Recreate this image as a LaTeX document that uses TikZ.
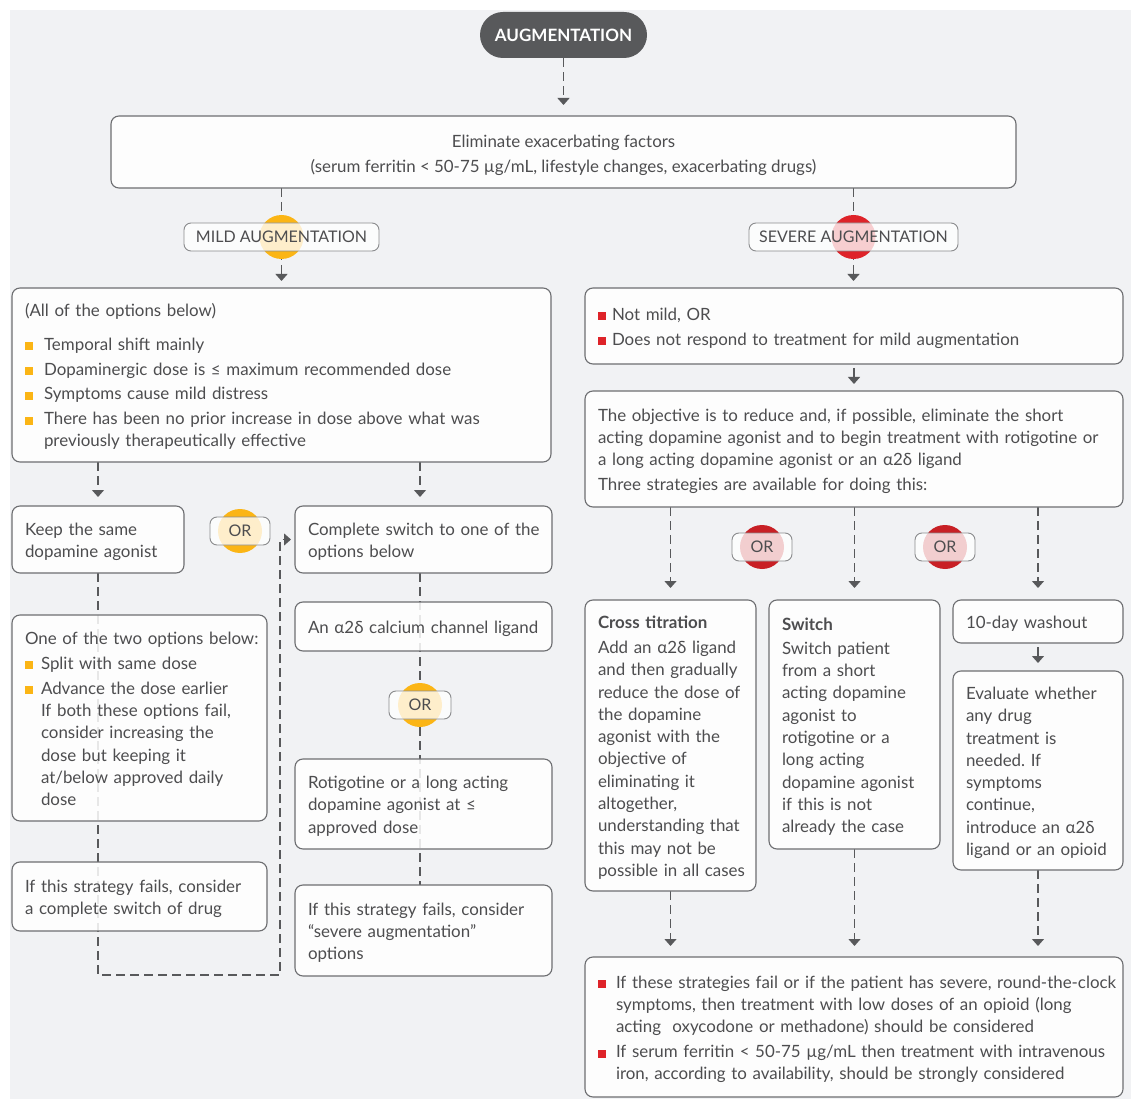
\documentclass[tikz,border=0pt]{standalone}
\usepackage{fontspec}
\setmainfont{Lato}
\usetikzlibrary{arrows.meta}
\frenchspacing

\definecolor{bggrey}{HTML}{F1F2F4}
\definecolor{edge}{HTML}{6D6E71}
\definecolor{ink}{HTML}{4D4D4F}
\definecolor{dark}{HTML}{58595B}
\definecolor{ylw}{HTML}{FBB515}
\definecolor{rd}{HTML}{DE2329}

\pgfdeclarelayer{bg}
\pgfdeclarelayer{back}
\pgfsetlayers{bg,back,main}

\tikzstyle{box} = [rectangle, rounded corners=8pt, draw=edge, line width=1.1pt, fill=white, fill opacity=0.86, text opacity=1, text=ink, anchor=north west, align=left, inner xsep=13pt, inner ysep=0pt, outer sep=0pt]
\tikzstyle{tag} = [rectangle, rounded corners=7pt, draw=edge!80, line width=0.9pt, fill=white, fill opacity=0.78, text opacity=1, text=ink, minimum height=28pt, inner xsep=0pt, outer sep=0pt, font=\fontsize{16}{20}\selectfont]
\tikzstyle{arrow} = [line width=1.3pt, draw=dark, dash pattern=on 9pt off 5pt, -{Triangle[width=12pt,length=7pt]}]
\tikzstyle{link} = [line width=1.3pt, draw=dark, dash pattern=on 9pt off 5pt]

\newcommand{\lns}[1]{\raisebox{-2.5pt}[\height][\depth]{\begin{tabular}{@{}l@{}}#1\end{tabular}}}
\newcommand{\sqbul}[2]{\makebox[#2][l]{\textcolor{#1}{\rule{8pt}{8pt}}}}

\begin{document}
\begin{tikzpicture}[x=1pt, y=-1pt, font=\fontsize{16.9}{22.3}\selectfont]
\useasboundingbox (0,0) rectangle (1133,1099);

\node (aug) [rectangle, rounded corners=23pt, fill=dark, text=white, minimum width=167pt, minimum height=46pt, font=\bfseries\fontsize{17}{20}\selectfont] at (563.5,35) {AUGMENTATION};
\node (elim) [box, align=center, minimum width=905pt, minimum height=72pt, inner xsep=0pt] at (111,116) {\raisebox{-3.5pt}[\height][\depth]{\begin{tabular}{@{}c@{}}Eliminate exacerbating factors\\[2.7pt](serum ferritin < 50-75 µg/mL, lifestyle changes, exacerbating drugs)\end{tabular}}};

\node (mildlab) [tag, minimum width=195pt] at (281.5,237) {MILD AUGMENTATION};
\node (sevlab) [tag, minimum width=209pt] at (853.5,237) {SEVERE AUGMENTATION};

% mild side
\node (mild) [box, text width=513pt, minimum height=174pt] at (12,288) {\lns{(All of the options below)\\[11pt]
\sqbul{ylw}{19pt}Temporal shift mainly\\[2.5pt]
\sqbul{ylw}{19pt}Dopaminergic dose is ≤ maximum recommended dose\\[2.5pt]
\sqbul{ylw}{19pt}Symptoms cause mild distress\\[2.5pt]
\sqbul{ylw}{19pt}There has been no prior increase in dose above what was\\
\hspace*{19pt}previously therapeutically effective}};
\node (keep) [box, text width=146pt, minimum height=67pt] at (12,506) {\lns{Keep the same\\dopamine agonist}};
\node (swtch) [box, text width=231pt, minimum height=67pt] at (295,506) {\lns{Complete switch to one of the\\options below}};
\node (ortag1) [tag, minimum width=60pt] at (240,531) {OR};
\node (twoopt) [box, text width=229pt, minimum height=206pt] at (12,615) {\lns{One of the two options below:\\[2.7pt]
\sqbul{ylw}{16pt}Split with same dose\\[2.7pt]
\sqbul{ylw}{16pt}Advance the dose earlier\\
\hspace*{16pt}If both these options fail,\\
\hspace*{16pt}consider increasing the\\
\hspace*{16pt}dose but keeping it\\
\hspace*{16pt}at/below approved daily\\
\hspace*{16pt}dose}};
\node (leftfail) [box, text width=229pt, minimum height=69pt] at (12,862) {\lns{If this strategy fails, consider\\a complete switch of drug}};
\node (ligand) [box, text width=231pt, minimum height=49pt] at (295,602) {\lns{An α2δ calcium channel ligand}};
\node (ortag2) [tag, minimum width=62pt] at (420,705) {OR};
\node (rotig) [box, text width=231pt, minimum height=90pt] at (295,759) {\lns{Rotigotine or a long acting\\dopamine agonist at ≤\\approved dose}};
\node (sevopt) [box, text width=231pt, minimum height=91pt] at (295,885) {\lns{If this strategy fails, consider\\“severe augmentation”\\options}};

% severe side
\node (notmild) [box, text width=512pt, minimum height=76pt] at (585,288) {\lns{\sqbul{rd}{14pt}Not mild, OR\\[2.7pt]
\sqbul{rd}{14pt}Does not respond to treatment for mild augmentation}};
\node (goal) [box, text width=512pt, minimum height=116pt] at (585,391) {\lns{The objective is to reduce and, if possible, eliminate the short\\
acting dopamine agonist and to begin treatment with rotigotine or\\
a long acting dopamine agonist or an α2δ ligand\\[2.7pt]
Three strategies are available for doing this:}};
\node (ortag3) [tag, minimum width=60pt] at (762,547) {OR};
\node (ortag4) [tag, minimum width=60pt] at (945,547) {OR};
\node (cross) [box, text width=145pt, minimum height=291pt] at (585,600) {\lns{\textbf{Cross titration}\\[2.7pt]
Add an α2δ ligand\\and then gradually\\reduce the dose of\\the dopamine\\agonist with the\\objective of\\eliminating it\\altogether,\\understanding that\\this may not be\\possible in all cases}};
\node (swap) [box, text width=145pt, minimum height=249pt] at (769,600) {\lns{\textbf{Switch}\\[1.7pt]
Switch patient\\from a short\\acting dopamine\\agonist to\\rotigotine or a\\long acting\\dopamine agonist\\if this is not\\already the case}};
\node (wash) [box, text width=144pt, minimum height=43pt] at (953,600) {\lns{10-day washout}};
\node (evalu) [box, text width=144pt, minimum height=199pt] at (953,671) {\lns{Evaluate whether\\any drug\\treatment is\\needed. If\\symptoms\\continue,\\introduce an α2δ\\ligand or an opioid}};
\node (last) [box, text width=512pt, minimum height=140pt] at (585,957) {\lns{\sqbul{rd}{18pt}If these strategies fail or if the patient has severe, round-the-clock\\
\hspace*{18pt}symptoms, then treatment with low doses of an opioid (long\\
\hspace*{18pt}acting~ oxycodone or methadone) should be considered\\[2.7pt]
\sqbul{rd}{18pt}If serum ferritin < 50-75 µg/mL then treatment with intravenous\\
\hspace*{18pt}iron, according to availability, should be strongly considered}};

\coordinate (loop) at (280,975);

\begin{pgfonlayer}{bg}
\fill[bggrey] (10,10) rectangle (1131,1099);
\end{pgfonlayer}

% Arrows
\begin{pgfonlayer}{back}
\draw [arrow, shorten >=11pt] (aug) -- (elim);
\draw [link] (elim.south -| mildlab) -- (mildlab);
\draw [link] (elim.south -| sevlab) -- (sevlab);
\draw [arrow, shorten >=7pt] (mildlab.south) -- (mildlab.south |- mild.north);
\draw [arrow, shorten >=7pt] (sevlab.south) -- (sevlab.south |- notmild.north);
\draw [arrow, shorten >=9pt] (mild.south -| keep) -- (keep);
\draw [arrow, shorten >=9pt] (mild.south -| ortag2) -- (ortag2 |- swtch.north);
\draw [arrow, shorten >=4pt] (keep.south) |- (loop) |- (swtch.west);
\draw [link] (swtch.south -| ortag2) -- (sevopt.north -| ortag2);
\draw [arrow, shorten <=4pt, shorten >=7pt] (notmild) -- (goal);
\draw [arrow, shorten >=12pt] (goal.south -| cross) -- (cross);
\draw [arrow, shorten >=12pt] (goal.south -| swap) -- (swap);
\draw [arrow, shorten >=12pt] (goal.south -| wash) -- (wash);
\draw [arrow, shorten <=4pt, shorten >=8pt] (wash) -- (evalu);
\draw [arrow, shorten >=11pt] (cross) -- (cross |- last.north);
\draw [arrow, shorten >=11pt] (swap) -- (swap |- last.north);
\draw [arrow, shorten >=11pt] (evalu) -- (evalu |- last.north);
\fill [ylw] (mildlab) circle (22pt);
\fill [rd] (sevlab) circle (22pt);
\fill [ylw] (ortag1) circle (22pt);
\fill [ylw] (ortag2) circle (22pt);
\fill [rd!90!black] (ortag3) circle (22pt);
\fill [rd!90!black] (ortag4) circle (22pt);
\end{pgfonlayer}

\end{tikzpicture}
\end{document}
